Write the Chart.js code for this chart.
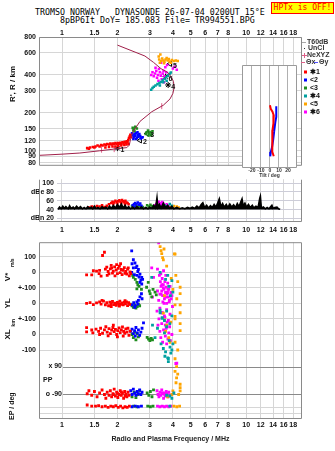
<!DOCTYPE html>
<html>
<head>
<meta charset="utf-8">
<script src="https://cdn.jsdelivr.net/npm/chart.js@4.4.1/dist/chart.umd.min.js"></script>
<style>
  body { margin: 0; background: #fff; }
  #wrap { position: relative; width: 335px; height: 451px; overflow: hidden; background: #fff; }
  #wrap canvas { position: absolute; }
  .ttl { position: absolute; font: 8.3px "DejaVu Sans Mono", monospace; white-space: pre; color: #000; line-height: 8px; }
  #hptx { position: absolute; left: 271px; top: 2px; width: 61px; height: 10px; background: #ff0; border: 1px solid #f00;
          color: #f00; font: 8px "DejaVu Sans Mono", monospace; line-height: 10px; text-align: center; }
</style>
</head>
<body>
<div id="wrap">
  <div class="ttl" style="left:35px;top:8px">TROMSO NORWAY   DYNASONDE 26-07-04 0200UT 15°E</div>
  <div class="ttl" style="left:60px;top:16px">8pBP6It DoY= 185.083 File= TR994551.BPG</div>
  <div id="hptx">HPTx is OFF!</div>
  <canvas id="iono" width="335" height="173" style="left:0;top:0"></canvas>
  <canvas id="tilt" width="72" height="117" style="left:232px;top:64px"></canvas>
  <canvas id="amp" width="335" height="63" style="left:0;top:172px"></canvas>
  <canvas id="drift" width="335" height="216" style="left:0;top:235px"></canvas>
</div>
<script>
// ---- axes / labels ----
const freqTicks = [1, 1.5, 2, 3, 4, 5, 6, 7, 8, 10, 12, 14, 16, 18];
const heightTicks = [80, 90, 100, 120, 150, 200, 300, 400, 600, 800];
const dbTicks = [20, 40, 60, 80, 100];
const dbLabels = ['dBn 20', '40', '60', 'dBe 80', '100'];
const velTicks = [100, 0, -100, -200, -300, -400, -500];
const velLabels = ['100', '0', '+-100', '0', '+-100', '0', '-100'];
const epTicks = [10, 0.1];
const epLabels = ['10.', '0.1'];
const tiltTicks = [-20, -10, 0, 10, 20];
const echoNames = ['✱1', '<2', '<3', '✱4', '<5', '✱6'];
const echoColors = ['#ff0000', '#0000ff', '#1e8c1e', '#00a0a0', '#ffa500', '#ff00ff'];

// ---- ionogram: [MHz, km] ----
const profile = [[0.75,92],[1.0,94],[1.25,96],[1.6,100],[1.9,103],[2.25,106],[2.32,111],[2.36,125],[2.42,140],[2.65,171],
  [3.07,204],[3.55,230],[3.86,258],[4.0,285],[4.06,316],[4.03,355],[3.9,390],[3.7,425],[3.45,448],[3.14,503],[2.82,565],[2.0,690]];
const nexyzErr = [[1.64,102],[1.92,103],[3.48,226]];
const hgt1 = [[1.37,105],[1.40,104],[1.42,106],[1.47,107],[1.50,106],[1.52,108],[1.56,110],[1.60,108],[1.63,111],[1.66,110],
  [1.70,112],[1.72,106],[1.73,111],[1.76,113],[1.80,112],[1.80,107],[1.83,114],[1.86,112],[1.88,108],[1.89,114],[1.92,113],
  [1.95,115],[1.95,108],[1.98,113],[2.01,115],[2.02,109],[2.04,114],[2.07,116],[2.10,114],[2.10,110],[2.13,117],[2.16,115],
  [2.18,111],[2.19,118],[2.22,116],[2.24,112],[2.25,119],[2.27,117],[2.29,122],[2.30,113],[2.31,126],[2.33,130],[2.35,134],[2.37,128]];
const hgt2 = [[2.38,130],[2.42,134],[2.45,128],[2.48,136],[2.50,131],[2.53,138],[2.55,127],[2.58,133],[2.60,129],[2.63,136],
  [2.66,131],[2.70,127],[2.44,124],[2.52,124],[2.40,138],[2.57,140],[2.68,125],[2.74,128]];
const hgt3 = [[2.42,152],[2.46,148],[2.50,155],[2.44,145],[2.55,150],[2.48,142],[2.88,140],[2.93,145],[2.97,137],[3.02,141],
  [3.07,136],[3.10,143],[2.85,136],[2.95,132],[3.05,133]];
const hgt4 = [[3.05,305],[3.10,315],[3.15,322],[3.22,330],[3.30,338],[3.38,345],[3.45,352],[3.52,362],[3.60,372],[3.68,383],
  [3.76,395],[3.84,408],[3.90,418],[3.55,350],[3.70,360],[3.40,330]];
const hgt5 = [[3.35,560],[3.37,530],[3.40,500],[3.45,515],[3.50,540],[3.55,520],[3.60,510],[3.65,530],[3.70,545],[3.75,520],
  [3.80,535],[3.85,510],[3.95,525],[4.05,515],[4.15,520],[4.25,515],[3.42,580],[3.58,495],[3.90,500]];
const hgt6 = [[3.05,400],[3.10,420],[3.15,390],[3.20,410],[3.25,430],[3.28,380],[3.32,400],[3.36,445],[3.40,420],[3.44,395],
  [3.48,370],[3.52,410],[3.56,430],[3.60,390],[3.64,460],[3.68,420],[3.72,480],[3.34,360],[3.58,350],[4.00,450],[4.10,465],
  [4.20,440],[3.45,500],[3.22,455]];
const markerPos = [[2.0,105],[2.65,121],[2.9,137],[3.77,333],[3.86,490],[3.65,388]];
const markerTags = ['1', '2', '3', '4', '5', '6'];

// ---- tilt inset: [deg, km] ----
const tiltX = [[0,243],[1,227],[2.8,217],[4.2,204],[4.2,193],[3.5,177],[2.8,157],[2.4,125],[2.8,108],[4.2,100]];
const tiltY = [[7,239],[7,198],[6,182],[5.3,167],[4.6,153],[3.5,132],[2.4,118],[1,108],[0.3,100]];

// ---- amplitude: [MHz, dB] ----
const ampTrace = [[0.95,41],[0.97,46],[0.99,42],[1.01,48],[1.03,43],[1.05,47],[1.08,42],[1.10,49],[1.12,43],[1.15,46],[1.17,42],
  [1.20,48],[1.23,43],[1.26,47],[1.29,42],[1.32,45],[1.35,42],[1.38,47],[1.41,43],[1.44,46],[1.47,42],[1.50,48],[1.53,43],
  [1.57,45],[1.61,42],[1.65,47],[1.69,43],[1.73,46],[1.77,42],[1.81,48],[1.85,43],[1.90,50],[1.95,44],[2.00,52],[2.05,45],
  [2.10,53],[2.15,44],[2.20,50],[2.25,43],[2.30,47],[2.36,42],[2.42,46],[2.48,42],[2.55,47],[2.62,43],[2.70,46],[2.77,42],
  [2.85,45],[2.93,42],[3.00,46],[3.08,43],[3.15,50],[3.22,44],[3.28,68],[3.32,45],[3.38,52],[3.45,44],[3.55,55],[3.65,45],
  [3.75,50],[3.85,43],[3.95,48],[4.05,42],[4.20,45],[4.35,42],[4.50,44],[4.65,42],[4.80,45],[4.95,43],[5.10,46],[5.25,43],
  [5.40,48],[5.55,44],[5.70,52],[5.82,56],[5.95,45],[6.10,50],[6.25,44],[6.40,49],[6.55,45],[6.70,52],[6.85,46],[7.00,55],
  [7.15,65],[7.30,47],[7.45,54],[7.60,46],[7.80,52],[7.95,45],[8.15,53],[8.35,46],[8.55,51],[8.75,45],[8.95,54],[9.15,47],
  [9.35,58],[9.50,65],[9.65,48],[9.85,55],[10.05,46],[10.3,52],[10.5,45],[10.8,50],[11.0,44],[11.3,48],[11.6,45],[11.85,66],
  [11.95,71],[12.1,44],[12.4,46],[12.7,42],[13.0,45],[13.3,42],[13.6,47],[13.8,50],[14.0,43],[14.3,45],[14.7,46],[15.0,42],[15.3,41]];
const amp1 = [[1.40,45],[1.45,47],[1.50,46],[1.55,48],[1.60,47],[1.65,50],[1.70,46],[1.75,49],[1.80,52],[1.85,55],[1.88,58],
  [1.92,56],[1.95,60],[1.98,57],[2.02,59],[2.05,61],[2.08,58],[2.12,62],[2.15,59],[2.18,57],[2.21,60],[2.24,56],[2.27,55],
  [2.30,52],[1.90,53],[2.00,54],[2.10,55],[2.20,53]];
const amp2 = [[2.42,50],[2.46,53],[2.50,55],[2.54,52],[2.58,56],[2.62,51],[2.66,54],[2.70,49],[2.48,47]];
const amp3 = [[2.40,48],[2.45,46],[2.52,50],[2.58,47],[2.65,49],[2.75,46],[2.90,50],[2.96,47],[3.02,51],[3.08,48],[3.15,46]];
const amp4 = [[3.60,50],[3.70,47],[3.85,53],[3.95,49]];
const amp5 = [[3.45,45],[3.55,47],[3.65,44],[3.90,46],[4.05,48],[4.20,47],[4.30,45]];
const amp6 = [[3.20,50],[3.25,53],[3.30,56],[3.35,58],[3.40,55],[3.45,52],[3.50,57],[3.55,54],[3.60,50],[3.65,48],[3.70,52],
  [3.75,49],[3.80,47],[3.40,49],[3.50,47]];

// ---- drift velocity V* (m/s) ----
const vel1 = [[1.36,-17],[1.45,-17],[1.48,10],[1.54,8],[1.60,12],[1.59,-8],[1.63,-25],[1.66,108],[1.70,129],[1.72,20],[1.75,33],
  [1.78,5],[1.80,-10],[1.83,22],[1.86,29],[1.88,-5],[1.90,8],[1.93,35],[1.94,-23],[1.97,15],[2.00,-8],[2.02,25],[2.05,40],
  [2.07,-2],[2.10,18],[2.12,-15],[2.15,12],[2.18,30],[2.20,-6],[2.22,5],[2.25,-12],[2.27,20],[2.29,29],[2.32,-23],[2.34,2],
  [2.36,-8],[1.85,45],[1.98,50],[2.08,55],[1.76,-20]];
const vel2 = [[2.39,138],[2.44,81],[2.40,55],[2.49,60],[2.52,30],[2.55,40],[2.58,5],[2.60,19],[2.62,-30],[2.65,-12],[2.68,-50],
  [2.71,-33],[2.44,29],[2.39,0],[2.47,-15],[2.65,-65],[2.55,-20],[2.71,-75],[2.74,-45]];
const vel3 = [[2.42,-20],[2.44,-33],[2.50,-45],[2.55,-65],[2.58,-80],[2.55,-106],[2.62,-90],[2.70,-110],[2.88,-96],[2.94,-65],
  [2.98,-120],[3.01,-137],[3.07,-158],[3.12,-110],[3.20,-127],[3.25,-145]];
const vel4 = [[3.07,-33],[3.41,0],[3.95,-54],[4.0,-127],[3.80,-90],[3.65,-45],[3.75,-20],[3.88,-150]];
const vel5 = [[3.41,165],[3.45,140],[3.48,120],[3.52,95],[3.55,80],[3.58,150],[4.08,119],[4.11,117],[4.38,-96],[4.38,-137],
  [4.25,-60],[4.15,-20],[3.70,40],[3.92,-40],[4.00,-110]];
const vel6 = [[3.07,29],[3.14,-33],[3.35,190],[3.30,20],[3.38,-20],[3.42,-60],[3.45,-90],[3.48,-120],[3.50,-40],[3.52,-150],
  [3.55,-80],[3.58,-110],[3.60,-170],[3.62,-60],[3.65,-130],[3.68,-95],[3.70,-200],[3.72,-140],[3.75,-70],[3.78,-160],
  [3.80,-110],[3.83,-180],[3.86,-90],[3.90,-130],[3.95,-150],[3.44,-10],[3.56,10],[3.66,-20],[3.40,-140],[3.53,-190]];

// ---- YL (km) ----
const yl1 = [[1.36,0],[1.42,5],[1.48,-8],[1.54,3],[1.60,10],[1.63,-5],[1.68,15],[1.72,-10],[1.75,5],[1.79,-15],[1.82,8],[1.85,-3],
  [1.88,12],[1.91,-8],[1.94,2],[1.97,-12],[2.00,6],[2.03,-4],[2.06,14],[2.09,-6],[2.12,3],[2.15,-10],[2.18,8],[2.21,-2],
  [2.24,10],[2.27,-14],[2.30,4],[2.33,-6],[1.65,20],[1.85,-20],[2.05,-18],[2.20,18]];
const yl2 = [[2.40,-10],[2.45,5],[2.50,-15],[2.55,10],[2.60,20],[2.65,42],[2.70,62],[2.72,30],[2.48,-25],[2.58,-5]];
const yl3 = [[2.35,-5],[2.40,-15],[2.44,-25],[2.48,-10],[2.52,-30],[2.56,-20],[2.60,-5],[2.64,-15]];
const yl4 = [[3.41,-60],[3.50,-94],[3.60,-110],[3.70,-50],[3.85,-130],[3.95,-80]];
const yl5 = [[4.11,-10],[4.38,-10],[4.11,-83],[4.38,-60],[3.60,50],[3.90,-120],[4.20,30]];
const yl6 = [[3.10,40],[3.30,80],[3.35,20],[3.40,-30],[3.45,60],[3.50,-60],[3.55,100],[3.58,0],[3.62,-90],[3.66,40],[3.70,-40],
  [3.74,70],[3.78,-110],[3.82,10],[3.86,-70],[3.92,30],[3.98,-20],[3.48,120],[3.64,-140],[3.76,90]];

// ---- XL (km) ----
const xl1 = [[1.36,44],[1.36,17],[1.45,29],[1.47,10],[1.53,35],[1.58,20],[1.62,40],[1.66,8],[1.70,30],[1.73,50],[1.76,15],
  [1.80,38],[1.83,5],[1.86,28],[1.89,45],[1.92,18],[1.95,33],[1.98,0],[2.01,25],[2.04,42],[2.07,12],[2.10,30],[2.13,48],
  [2.16,20],[2.19,8],[2.22,36],[2.25,15],[2.28,40],[2.31,-5],[2.34,22],[1.90,60],[2.00,-15],[2.15,-10],[1.60,0],[1.78,-8]];
const xl2 = [[2.36,20],[2.40,35],[2.44,5],[2.48,25],[2.52,45],[2.56,10],[2.60,30],[2.64,-5],[2.68,15],[2.72,40],[2.77,75],[2.50,-10]];
const xl3 = [[2.40,0],[2.44,-20],[2.48,15],[2.52,-35],[2.56,5],[2.60,-15],[2.90,-19],[2.95,-30],[3.00,-40],[3.05,-25],[3.10,-35]];
const xl4 = [[3.10,60],[3.20,-20],[3.30,40],[3.41,156],[3.45,-60],[3.50,106],[3.55,-90],[3.60,10],[3.65,-112],[3.70,50],
  [3.75,-150],[3.78,-175],[3.82,-40],[3.86,-81],[3.90,-120],[3.95,-100],[4.0,-60],[3.62,-140]];
const xl5 = [[3.55,137],[3.60,95],[3.70,60],[3.80,-20],[4.11,100],[4.38,70],[4.38,25],[4.11,-50],[3.86,-50],[4.11,-156],
  [4.25,-100],[3.65,20]];
const xl6 = [[3.28,150],[3.32,60],[3.36,100],[3.40,20],[3.44,-20],[3.48,70],[3.52,-50],[3.56,30],[3.60,120],[3.64,-10],
  [3.68,40],[3.72,80],[3.76,-30],[3.80,10],[3.84,50],[3.88,-40],[3.95,0],[4.20,-185],[3.50,140],[3.70,-60]];

// ---- PP (deg) ----
const pp1 = [[1.37,-90],[1.40,-70],[1.45,-100],[1.50,-75],[1.55,-110],[1.60,-85],[1.65,-65],[1.70,-95],[1.73,-120],[1.76,-80],
  [1.80,-100],[1.83,-70],[1.86,-110],[1.89,-90],[1.92,-60],[1.95,-105],[1.98,-80],[2.01,-115],[2.04,-95],[2.07,-70],
  [2.10,-100],[2.13,-85],[2.16,-120],[2.19,-75],[2.22,-95],[2.25,-110],[2.28,-80],[2.31,-100],[1.90,-95],[2.00,-88],
  [2.10,-78],[2.20,-105]];
const pp2 = [[2.36,-70],[2.40,-95],[2.44,-60],[2.48,-85],[2.52,-100],[2.56,-75],[2.60,-90],[2.64,-65],[2.68,-95],[2.72,-80]];
const pp3 = [[2.40,-110],[2.46,-80],[2.52,-116],[2.58,-95],[2.64,-70],[2.90,-85],[2.96,-100],[3.02,-75],[3.08,-110],[3.14,-64]];
const pp4 = [[3.85,-105],[3.95,-120],[3.70,-100],[4.05,-85],[3.78,143]];
const pp5 = [[4.19,90],[4.11,58],[4.19,15],[4.16,-17],[4.38,-27],[4.38,-49],[4.38,-71],[4.00,-71],[3.95,-95],[4.25,40],
  [4.30,-95],[3.75,-110]];
const pp6 = [[3.28,-70],[3.32,-95],[3.36,-110],[3.40,-80],[3.44,-100],[3.48,-65],[3.52,-90],[3.56,-120],[3.60,-85],[3.64,-105],
  [3.68,-75],[3.72,-95],[3.76,-110],[3.80,-80],[3.86,-100],[3.50,-85],[3.62,-95],[3.70,-90],[4.15,110]];

// ---- EP (deg) ----
const ep1 = [[1.37,14],[1.45,12],[1.52,12],[1.58,13],[1.65,11],[1.72,12],[1.78,10],[1.84,12],[1.90,11],[1.96,13],[2.02,10],
  [2.08,12],[2.14,9],[2.20,11],[2.26,10],[2.32,12]];
const ep2 = [[2.40,11],[2.50,12],[2.60,11],[2.70,12]];
const ep3 = [[2.45,12],[2.55,11],[2.92,12],[3.02,11],[3.12,12]];
const ep4 = [[3.85,12]];
const ep5 = [[4.05,12],[4.20,11],[4.35,12]];
const ep6 = [[3.30,12],[3.40,11],[3.50,12],[3.60,11],[3.70,12],[3.80,11],[3.90,12]];

// ---- helpers ----
const FONT = '"Liberation Sans", Arial, sans-serif';
const tickFont = { family: FONT, size: 7, weight: 'bold' };
const GRID = '#d6d6d6';
const pairs = arr => arr.map(p => ({ x: p[0], y: p[1] }));
const dots = (arr, color, axis, r) => ({ data: pairs(arr), backgroundColor: color, borderWidth: 0,
  pointStyle: 'rect', pointRadius: r || 2, yAxisID: axis || 'y' });
const setTicks = list => s => { s.ticks = list.map(v => ({ value: v })); };
const baseOpts = { responsive: false, animation: false, devicePixelRatio: 1, events: [],
  plugins: { legend: { display: false }, tooltip: { enabled: false } } };

function freqAxis(position, xmin, height, pad) {
  return { type: 'logarithmic', position: position, min: xmin, max: 20.1,
    afterBuildTicks: setTicks(freqTicks), afterFit: s => { s.height = height; },
    ticks: { font: tickFont, color: '#111', padding: pad, autoSkip: false, maxRotation: 0, minRotation: 0,
      callback: v => String(v) },
    grid: { color: GRID, drawTicks: false }, border: { display: false } };
}

// box round the plot area
const frame = {
  id: 'frame',
  beforeDraw(chart, args, o) {
    if (!o.fill) return;
    const a = chart.chartArea;
    chart.ctx.save(); chart.ctx.fillStyle = o.fill;
    chart.ctx.fillRect(a.left, a.top, a.right - a.left, a.bottom - a.top); chart.ctx.restore();
  },
  afterDraw(chart, args, o) {
    const a = chart.chartArea, ctx = chart.ctx;
    const l = (o.left != null ? o.left : a.left) + 0.5, r = a.right - 0.5, t = a.top + 0.5, b = a.bottom - 0.5;
    ctx.save(); ctx.strokeStyle = o.color || '#8a8a8a'; ctx.lineWidth = 1; ctx.beginPath();
    if (o.top !== false) { ctx.moveTo(l, t); ctx.lineTo(r, t); }
    ctx.moveTo(r, t); ctx.lineTo(r, b); ctx.lineTo(l, b); ctx.lineTo(l, t);
    ctx.stroke(); ctx.restore();
  }
};

function vText(ctx, txt, x, y, size) {
  ctx.save(); ctx.translate(x, y); ctx.rotate(-Math.PI / 2);
  ctx.font = 'bold ' + size + 'px ' + FONT; ctx.textAlign = 'center'; ctx.textBaseline = 'middle';
  ctx.fillText(txt, 0, 0); ctx.restore();
}

// legend, axis title and echo tags of the ionogram
const ionoDecor = {
  id: 'ionoDecor',
  afterDraw(chart) {
    const ctx = chart.ctx, sx = chart.scales.x, sy = chart.scales.y;
    ctx.save();
    ctx.fillStyle = '#111';
    vText(ctx, "R', R / km", 12.5, 84, 8);
    ctx.font = 'bold 7px ' + FONT; ctx.textBaseline = 'middle'; ctx.textAlign = 'left';
    markerPos.forEach((p, i) => {
      ctx.fillText(markerTags[i], sx.getPixelForValue(p[0]) + 3, sy.getPixelForValue(p[1]) + 2);
    });
    // legend
    ctx.lineWidth = 1;
    ctx.strokeStyle = '#aaa'; ctx.beginPath(); ctx.moveTo(302, 42.5); ctx.lineTo(306, 42.5); ctx.stroke();
    ctx.fillStyle = '#333'; ctx.fillText('T60dB', 307, 42);
    ctx.fillRect(304, 48, 1, 1); ctx.fillText('UnCl', 308, 48.5);
    ctx.strokeStyle = '#e0608a'; ctx.beginPath();
    ctx.moveTo(302, 55.5); ctx.lineTo(307, 55.5); ctx.moveTo(304.5, 53); ctx.lineTo(304.5, 58); ctx.stroke();
    ctx.fillText('NeXYZ', 307, 55.5);
    ctx.strokeStyle = '#e0608a'; ctx.beginPath(); ctx.moveTo(301, 62.5); ctx.lineTo(305, 62.5); ctx.stroke();
    ctx.fillText('Θx', 306, 62.5);
    ctx.strokeStyle = '#5050ff'; ctx.beginPath(); ctx.moveTo(314, 62.5); ctx.lineTo(318, 62.5); ctx.stroke();
    ctx.fillText('Θy', 319, 62.5);
    echoNames.forEach((n, i) => {
      const y = 72 + i * 8;
      ctx.fillStyle = echoColors[i]; ctx.fillRect(304, y - 1.5, 3, 3);
      ctx.fillStyle = '#111'; ctx.fillText(n, 310, y + 0.5);
    });
    ctx.restore();
  }
};

// row names, PP reference lines of the lower panel
const driftDecor = {
  id: 'driftDecor',
  beforeDatasetsDraw(chart) {
    const ctx = chart.ctx, a = chart.chartArea, pp = chart.scales.yPP;
    ctx.save(); ctx.strokeStyle = '#8a8a8a'; ctx.lineWidth = 1; ctx.beginPath();
    [90, -90].forEach(v => { const y = Math.round(pp.getPixelForValue(v)) + 0.5; ctx.moveTo(63, y); ctx.lineTo(a.right, y); });
    ctx.stroke(); ctx.restore();
  },
  afterDraw(chart) {
    const ctx = chart.ctx, s = chart.scales;
    ctx.save(); ctx.fillStyle = '#111';
    vText(ctx, 'V*', 7.5, s.yV.getPixelForValue(-30), 8);
    vText(ctx, 'm/s', 12.5, s.yV.getPixelForValue(62), 5);
    vText(ctx, 'YL', 7.5, s.yYL.getPixelForValue(0), 8);
    vText(ctx, 'km', 13, s.yYL.getPixelForValue(-125), 5.5);
    vText(ctx, 'XL', 7.5, s.yXL.getPixelForValue(0), 8);
    vText(ctx, 'EP / deg', 12.5, s.yEP.getPixelForValue(12), 7);
    ctx.font = 'bold 7px ' + FONT; ctx.textBaseline = 'middle';
    ctx.textAlign = 'right';
    ctx.fillText('x 90', 62, s.yPP.getPixelForValue(90));
    ctx.fillText('o -90', 62, s.yPP.getPixelForValue(-90));
    ctx.textAlign = 'left';
    ctx.fillText('PP', 43, s.yPP.getPixelForValue(0));
    ctx.restore();
  }
};

// ---- ionogram ----
const echoHeights = [hgt1, hgt2, hgt3, hgt4, hgt5, hgt6];
new Chart(document.getElementById('iono'), {
  type: 'scatter',
  data: { datasets: [
    { data: pairs(profile), showLine: true, borderColor: '#a0204a', borderWidth: 1, pointRadius: 0 },
    ...echoHeights.map((d, i) => dots(d, echoColors[i], 'y', 1.8)),
    { data: pairs(nexyzErr), pointStyle: 'line', rotation: 90, pointRadius: 3, borderColor: '#e0608a', borderWidth: 1 },
    { data: pairs(markerPos), pointStyle: ['star', 'triangle', 'triangle', 'star', 'triangle', 'star'],
      rotation: [0, -90, -90, 0, -90, 0], pointRadius: 3, borderColor: '#000', borderWidth: 1,
      backgroundColor: 'rgba(0,0,0,0)' }
  ] },
  options: { ...baseOpts,
    layout: { padding: { left: 0, right: 33, top: 0, bottom: 1 } },
    scales: {
      x: freqAxis('top', 0.75, 37, 0),
      y: { type: 'logarithmic', min: 76, max: 800, afterBuildTicks: setTicks(heightTicks), afterFit: s => { s.width = 39; },
        ticks: { font: tickFont, color: '#111', padding: 3, autoSkip: false, callback: v => String(v) },
        grid: { color: GRID, drawTicks: false }, border: { display: false } }
    },
    plugins: { ...baseOpts.plugins, frame: {} }
  },
  plugins: [frame, ionoDecor]
});

// ---- tilt inset ----
new Chart(document.getElementById('tilt'), {
  type: 'scatter',
  data: { datasets: [
    { data: pairs(tiltX), showLine: true, borderColor: '#ff0000', borderWidth: 2, pointRadius: 0 },
    { data: pairs(tiltY), showLine: true, borderColor: '#0000ff', borderWidth: 2, pointRadius: 0 }
  ] },
  options: { ...baseOpts,
    layout: { padding: { left: 10, right: 7, top: 1, bottom: 0 } },
    scales: {
      x: { type: 'linear', min: -31, max: 30, afterBuildTicks: setTicks(tiltTicks), afterFit: s => { s.height = 13; },
        ticks: { font: { family: FONT, size: 5, weight: 'bold' }, color: '#333', padding: 0, autoSkip: false, maxRotation: 0 },
        grid: { color: '#b0b0b0', drawTicks: false }, border: { display: false },
        title: { display: true, text: 'Tilt / deg', color: '#333', font: { family: FONT, size: 5, weight: 'bold' },
          padding: { top: 0, bottom: 2.5 } } },
      y: { type: 'logarithmic', min: 81.6, max: 489, display: false }
    },
    plugins: { ...baseOpts.plugins, frame: { fill: '#fff', color: '#9a9a9a' } }
  },
  plugins: [frame]
});

// ---- amplitude ----
const echoAmps = [amp1, amp2, amp3, amp4, amp5, amp6];
new Chart(document.getElementById('amp'), {
  type: 'scatter',
  data: { datasets: [
    { data: pairs(ampTrace), showLine: true, borderColor: '#000', borderWidth: 1.5, pointRadius: 0,
      backgroundColor: '#000', fill: { value: 40.5 } },
    ...echoAmps.map((d, i) => dots(d, echoColors[i], 'y', 1.8))
  ] },
  options: { ...baseOpts,
    layout: { padding: { left: 0, right: 33, top: 1, bottom: 0 } },
    scales: {
      x: freqAxis('bottom', 0.9395, 13, 4),
      y: { type: 'linear', min: 12, max: 109, afterBuildTicks: setTicks(dbTicks), afterFit: s => { s.width = 57; },
        ticks: { font: tickFont, color: '#111', padding: 3, autoSkip: false, callback: (v, i) => dbLabels[i] },
        grid: { color: '#cdcdd8', drawTicks: false }, border: { display: false } }
    },
    plugins: { ...baseOpts.plugins, frame: { left: 39, top: false } }
  },
  plugins: [frame]
});

// ---- drift / polarisation panel ----
const groups = [[vel1, vel2, vel3, vel4, vel5, vel6, 'yV'], [yl1, yl2, yl3, yl4, yl5, yl6, 'yYL'],
  [xl1, xl2, xl3, xl4, xl5, xl6, 'yXL'], [pp1, pp2, pp3, pp4, pp5, pp6, 'yPP'], [ep1, ep2, ep3, ep4, ep5, ep6, 'yEP']];
const driftSets = [];
for (let c = 0; c < 6; c++) {
  groups.forEach(g => driftSets.push(dots(g[c], echoColors[c], g[6], 2)));
}
new Chart(document.getElementById('drift'), {
  type: 'scatter',
  data: { datasets: driftSets },
  options: { ...baseOpts,
    layout: { padding: { left: 0, right: 33, top: 2, bottom: 0 } },
    scales: {
      x: { ...freqAxis('bottom', 0.75, 32, 2),
        title: { display: true, text: 'Radio and Plasma Frequency / MHz', color: '#222',
          font: { family: FONT, size: 7, weight: 'bold' }, padding: { top: 0, bottom: 7.5 } } },
      yV: { type: 'linear', position: 'left', weight: 1, min: -943.75, max: 193.75,
        afterBuildTicks: setTicks(velTicks), afterFit: s => { s.width = 39; },
        ticks: { font: tickFont, color: '#111', padding: 3, autoSkip: false, callback: (v, i) => velLabels[i] },
        grid: { color: GRID, drawTicks: false }, border: { display: false } },
      yEP: { type: 'linear', position: 'left', weight: 0, min: -10, max: 293.33,
        afterBuildTicks: setTicks(epTicks), afterFit: s => { s.width = 0; },
        ticks: { font: tickFont, color: '#111', padding: 3, autoSkip: false, callback: (v, i) => epLabels[i] },
        grid: { color: GRID, drawTicks: false }, border: { display: false } },
      yYL: { type: 'linear', min: -743.75, max: 393.75, display: false },
      yXL: { type: 'linear', min: -543.75, max: 593.75, display: false },
      yPP: { type: 'linear', min: -257.14, max: 912.86, display: false }
    },
    plugins: { ...baseOpts.plugins, frame: {} }
  },
  plugins: [frame, driftDecor]
});
</script>
</body>
</html>
